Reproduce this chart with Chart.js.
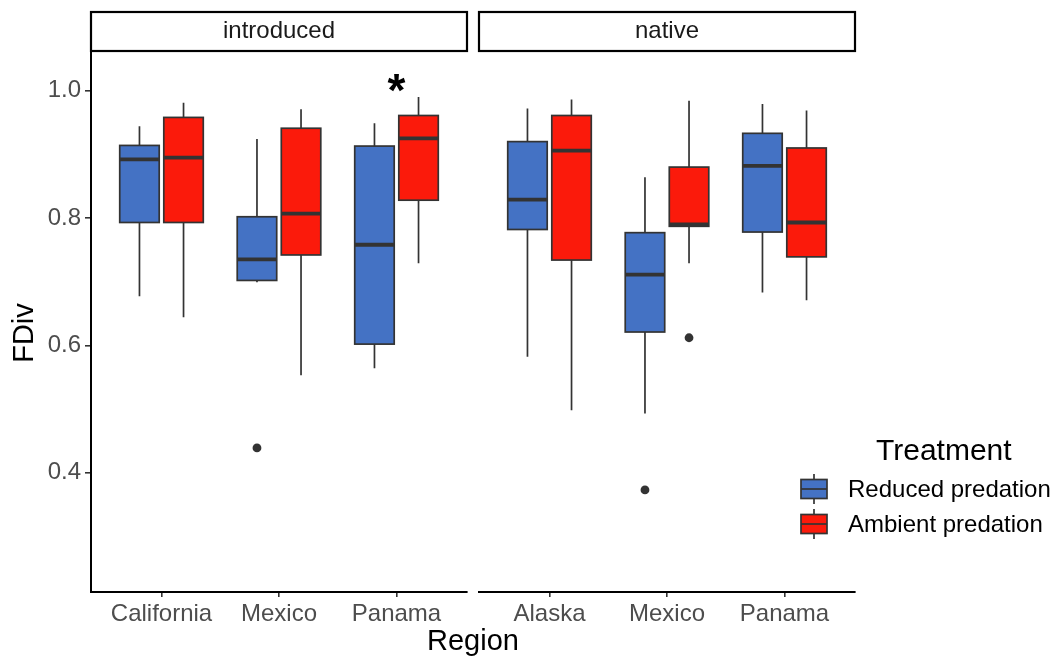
<!DOCTYPE html>
<html>
<head>
<meta charset="utf-8">
<title>FDiv by region</title>
<script src="https://cdn.jsdelivr.net/npm/chart.js"></script>
<style>
  html, body { margin: 0; padding: 0; background: #fff; }
  #wrap { position: relative; width: 1057px; height: 660px; }
  #wrap canvas { position: absolute; left: 0; top: 0; }
</style>
</head>
<body>
<div id="wrap">
  <canvas id="introduced" width="1057" height="660"></canvas>
  <canvas id="native" width="1057" height="660"></canvas>
</div>
<script>
const introducedRegions = ['California', 'Mexico', 'Panama'];
const nativeRegions = ['Alaska', 'Mexico', 'Panama'];
const treatments = ['Reduced predation', 'Ambient predation'];
const yTicks = [0.4, 0.6, 0.8, 1.0];

// [lower whisker, Q1, median, Q3, upper whisker] for each region
const introducedReduced = [
  [0.677, 0.793, 0.892, 0.914, 0.944],
  [0.699, 0.702, 0.735, 0.802, 0.924],
  [0.564, 0.602, 0.758, 0.913, 0.949]
];
const introducedAmbient = [
  [0.644, 0.793, 0.895, 0.958, 0.981],
  [0.553, 0.742, 0.807, 0.941, 0.971],
  [0.729, 0.828, 0.925, 0.961, 0.990]
];
const nativeReduced = [
  [0.582, 0.782, 0.829, 0.920, 0.972],
  [0.493, 0.621, 0.711, 0.777, 0.864],
  [0.683, 0.778, 0.882, 0.933, 0.979]
];
const nativeAmbient = [
  [0.498, 0.734, 0.906, 0.961, 0.986],
  [0.729, 0.787, 0.790, 0.880, 0.984],
  [0.671, 0.739, 0.793, 0.910, 0.969]
];

// outlying points, one list per region
const introducedReducedOut = [[], [0.439], []];
const introducedAmbientOut = [[], [], []];
const nativeReducedOut = [[], [0.373], []];
const nativeAmbientOut = [[], [0.612], []];

// significance marks: [region index, y]
const introducedStars = [[2, 1.017]];
const nativeStars = [];

const BLUE = '#4472c4';
const RED = '#fb1a0b';
const OUTLINE = '#333333';
const FONT = '"Liberation Sans", Arial, Helvetica, sans-serif';
const DODGE = 0.1875;
const BOX_W = 0.336;
const Y_MIN = 0.2127, Y_MAX = 1.0623;

Chart.defaults.font.family = FONT;

const boxPlugin = {
  id: 'boxes',
  beforeDatasetsDraw(chart, args, opts) {
    const { ctx, scales: { x, y } } = chart;
    const half = x.getPixelForValue(1 + BOX_W / 2) - x.getPixelForValue(1);
    opts.groups.forEach(g => {
      g.stats.forEach((s, i) => {
        const cx = x.getPixelForValue(i + 1 + g.offset);
        const [lo, q1, med, q3, hi] = s.map(v => y.getPixelForValue(v));
        ctx.save();
        ctx.strokeStyle = OUTLINE;
        ctx.lineWidth = 1.7;
        ctx.beginPath();
        ctx.moveTo(cx, hi); ctx.lineTo(cx, q3);
        ctx.moveTo(cx, q1); ctx.lineTo(cx, lo);
        ctx.stroke();
        ctx.fillStyle = g.color;
        ctx.fillRect(cx - half, q3, half * 2, q1 - q3);
        ctx.strokeRect(cx - half, q3, half * 2, q1 - q3);
        ctx.lineWidth = 3.8;
        ctx.beginPath();
        ctx.moveTo(cx - half, med); ctx.lineTo(cx + half, med);
        ctx.stroke();
        ctx.restore();
      });
    });
  }
};

const stripPlugin = {
  id: 'strip',
  afterDraw(chart, args, opts) {
    const { ctx, chartArea: a } = chart;
    ctx.save();
    ctx.strokeStyle = '#000';
    ctx.lineWidth = 2.2;
    ctx.strokeRect(a.left, 12, a.right - a.left, a.top - 12);
    ctx.fillStyle = '#1a1a1a';
    ctx.font = '24px ' + FONT;
    ctx.textAlign = 'center';
    ctx.textBaseline = 'middle';
    ctx.fillText(opts.label, (a.left + a.right) / 2, 31);
    ctx.restore();
  }
};

const starPlugin = {
  id: 'stars',
  afterDatasetsDraw(chart, args, opts) {
    const { ctx, scales: { x, y } } = chart;
    ctx.save();
    ctx.fillStyle = '#000';
    ctx.font = 'bold 46px ' + FONT;
    ctx.textAlign = 'center';
    ctx.textBaseline = 'alphabetic';
    opts.marks.forEach(([i, v]) => {
      ctx.fillText('*', x.getPixelForValue(i + 1), y.getPixelForValue(v) + 26);
    });
    ctx.restore();
  }
};

// axis titles and legend shared by both panels
const decorPlugin = {
  id: 'decor',
  afterDraw(chart) {
    const { ctx } = chart;
    ctx.save();
    ctx.fillStyle = '#000';
    ctx.font = '29px ' + FONT;
    ctx.textAlign = 'center';
    ctx.textBaseline = 'middle';
    ctx.fillText('Region', 473, 642);
    ctx.save();
    ctx.translate(25, 333);
    ctx.rotate(-Math.PI / 2);
    ctx.fillText('FDiv', 0, 0);
    ctx.restore();

    ctx.textAlign = 'left';
    ctx.font = '30px ' + FONT;
    ctx.fillText('Treatment', 876, 452);
    ctx.font = '24px ' + FONT;
    [BLUE, RED].forEach((c, k) => {
      const cy = 489 + k * 35;
      ctx.strokeStyle = OUTLINE;
      ctx.lineWidth = 1.7;
      ctx.beginPath();
      ctx.moveTo(814, cy - 15); ctx.lineTo(814, cy + 15);
      ctx.stroke();
      ctx.fillStyle = c;
      ctx.fillRect(801, cy - 9.5, 26, 19);
      ctx.strokeRect(801, cy - 9.5, 26, 19);
      ctx.beginPath();
      ctx.moveTo(801, cy); ctx.lineTo(827, cy);
      ctx.stroke();
      ctx.fillStyle = '#000';
      ctx.fillText(treatments[k], 848, cy + 1);
    });
    ctx.restore();
  }
};

function outlierPoints(outs, offset) {
  const pts = [];
  outs.forEach((list, i) => list.forEach(v => pts.push({ x: i + 1 + offset, y: v })));
  return pts;
}

function panel(id, label, regions, reduced, ambient, reducedOut, ambientOut, stars, left, right, showY, extra) {
  return new Chart(document.getElementById(id), {
    type: 'scatter',
    data: {
      datasets: [
        { label: treatments[0], data: outlierPoints(reducedOut, -DODGE) },
        { label: treatments[1], data: outlierPoints(ambientOut, DODGE) }
      ]
    },
    options: {
      responsive: false,
      animation: false,
      devicePixelRatio: 1,
      layout: { padding: { left: left, right: right, top: 51, bottom: 0 } },
      elements: { point: { radius: 4.4, backgroundColor: OUTLINE, borderWidth: 0, hoverRadius: 4.4 } },
      scales: {
        x: {
          type: 'linear', min: 0.4, max: 3.6,
          afterBuildTicks: s => { s.ticks = [1, 2, 3].map(v => ({ value: v })); },
          afterFit: s => { s.height = 68; },
          ticks: { color: '#4d4d4d', font: { size: 24 }, padding: 3, callback: v => regions[v - 1] },
          grid: { drawOnChartArea: false, drawTicks: true, tickLength: 5, color: OUTLINE, lineWidth: 1.6 },
          border: { display: true, color: '#000', width: 2 }
        },
        y: {
          display: showY,
          min: Y_MIN, max: Y_MAX,
          afterBuildTicks: s => { s.ticks = yTicks.map(v => ({ value: v })); },
          afterFit: s => { s.width = showY ? 91 : 0; },
          ticks: { color: '#4d4d4d', font: { size: 24 }, padding: 4, callback: v => v.toFixed(1) },
          grid: { drawOnChartArea: false, drawTicks: true, tickLength: 6, color: OUTLINE, lineWidth: 1.6 },
          border: { display: true, color: '#000', width: 2 }
        }
      },
      plugins: {
        legend: { display: false },
        tooltip: { enabled: false },
        strip: { label: label },
        stars: { marks: stars },
        boxes: {
          groups: [
            { stats: reduced, color: BLUE, offset: -DODGE },
            { stats: ambient, color: RED, offset: DODGE }
          ]
        }
      }
    },
    plugins: [boxPlugin, stripPlugin, starPlugin].concat(extra)
  });
}

panel('introduced', 'introduced', introducedRegions, introducedReduced, introducedAmbient,
  introducedReducedOut, introducedAmbientOut, introducedStars, 0, 590, true, []);
panel('native', 'native', nativeRegions, nativeReduced, nativeAmbient,
  nativeReducedOut, nativeAmbientOut, nativeStars, 479, 202, false, [decorPlugin]);
</script>
</body>
</html>
